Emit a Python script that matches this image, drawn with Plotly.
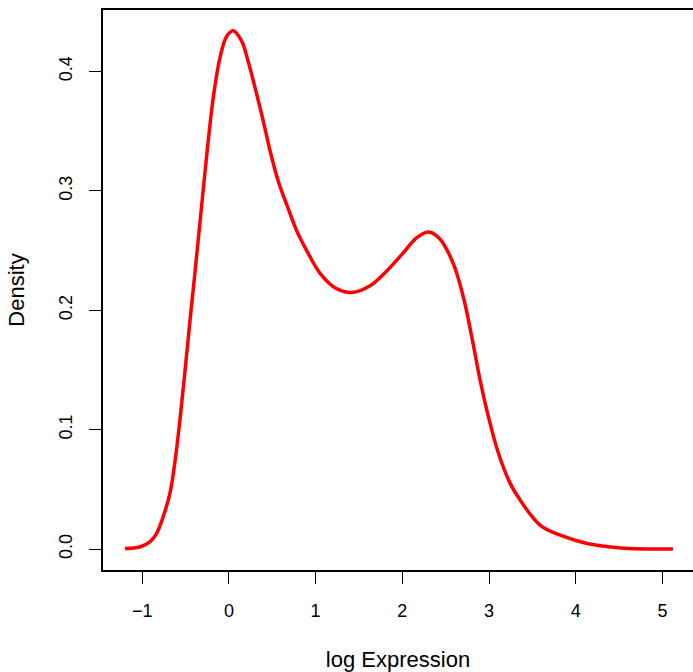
import plotly.graph_objects as go

# Density curve values
x_vals = [-1.20, -1.028, -0.912, -0.835, -0.759, -0.681, -0.624, -0.566, -0.508, -0.450,
          -0.393, -0.335, -0.277, -0.239, -0.181, -0.104, -0.027, 0.050, 0.146, 0.223,
          0.320, 0.396, 0.473, 0.569, 0.666, 0.782, 0.897, 1.051, 1.244, 1.417,
          1.628, 1.821, 2.013, 2.167, 2.301, 2.436, 2.590, 2.705, 2.802, 2.898,
          2.994, 3.110, 3.245, 3.360, 3.591, 3.822, 4.130, 4.515, 5.12]
density = [0.0006, 0.0019, 0.0061, 0.0131, 0.0270, 0.0465, 0.0722, 0.1075, 0.1480, 0.1905,
           0.2305, 0.2727, 0.3148, 0.3415, 0.3777, 0.4111, 0.4292, 0.4340, 0.4255, 0.4080,
           0.3810, 0.3585, 0.3340, 0.3081, 0.2887, 0.2665, 0.2500, 0.2310, 0.2180, 0.2149,
           0.2205, 0.2330, 0.2483, 0.2608, 0.2656, 0.2595, 0.2386, 0.2107, 0.1773, 0.1411,
           0.1105, 0.0799, 0.0549, 0.0409, 0.0200, 0.0117, 0.0048, 0.0011, 0.0002]
x_ticks = [-1, 0, 1, 2, 3, 4, 5]
y_ticks = [0.0, 0.1, 0.2, 0.3, 0.4]
y_tick_labels = ["0.0", "0.1", "0.2", "0.3", "0.4"]

FONT = "Liberation Sans, Arial, Helvetica, sans-serif"

fig = go.Figure()
fig.add_trace(go.Scatter(x=x_vals, y=density, mode="lines",
                         line=dict(color="#ff0000", width=3.5, shape="spline", smoothing=1.0),
                         hoverinfo="skip", showlegend=False))

fig.update_layout(
    width=693, height=672,
    margin=dict(l=103, r=0, t=10, b=102),
    paper_bgcolor="white", plot_bgcolor="white",
    font=dict(family=FONT, size=18, color="black"),
    xaxis=dict(range=[-1.452, 5.352], tickvals=x_ticks, ticks="outside", ticklen=12,
               tickwidth=1.3, tickcolor="black", showgrid=False, zeroline=False,
               showline=True, linecolor="black", linewidth=1.5, mirror=True,
               ticklabelstandoff=12, automargin=False,
               title=dict(text="log Expression", standoff=31)),
    yaxis=dict(range=[-0.0174, 0.4514], tickvals=y_ticks, ticktext=y_tick_labels,
               ticks="outside", ticklen=12, tickwidth=1.3, tickcolor="black",
               tickangle=-90, showgrid=False, zeroline=False,
               showline=True, linecolor="black", linewidth=1.5,
               ticklabelstandoff=10, automargin=False,
               title=dict(text="Density", standoff=25)),
)

fig.write_html("out.html",
               config={"displayModeBar": False},
               post_script="document.body.style.margin='0px';document.body.style.overflow='hidden';")
